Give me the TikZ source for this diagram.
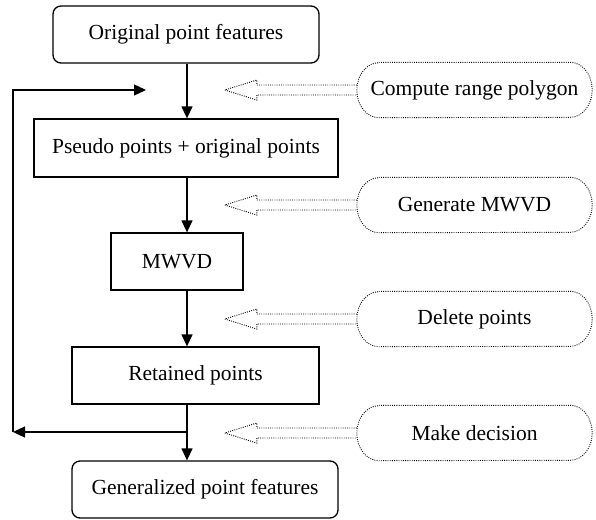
\documentclass[tikz,border=0pt]{standalone}
\usepackage{fontspec}
\setmainfont{Liberation Serif}
\usetikzlibrary{arrows.meta}

\tikzset{
  box/.style={draw, line width=1.3pt, inner sep=0pt, font=\fontsize{21.5}{25}\selectfont},
  roundbox/.style={box, rounded corners=8pt},
  cloud label/.style={inner sep=0pt, minimum width=235pt, minimum height=55pt,
                      font=\fontsize{21.5}{25}\selectfont},
  flow/.style={line width=1.3pt, -{Triangle[length=12pt,width=11pt]}},
  hollow/.style={dash pattern=on 0.9pt off 1.3pt, line width=0.9pt},
  outline/.style={dash pattern=on 0.9pt off 1.3pt, line width=0.9pt},
}

\begin{document}
\begin{tikzpicture}[x=1pt, y=-1pt]
  \useasboundingbox (0,0) rectangle (596,519);

  % main column of steps
  \node[roundbox, minimum width=266pt, minimum height=57pt] (orig) at (186,34.5) {Original point features};
  \node[box, minimum width=304pt, minimum height=58pt] (pseudo) at (186,148) {Pseudo points + original points};
  \node[box, minimum width=132pt, minimum height=57pt] (mwvd) at (177,261.5) {MWVD};
  \node[box, minimum width=247pt, minimum height=57pt] (kept) at (195.5,375.5) {Retained points};
  \node[roundbox, minimum width=266pt, minimum height=57pt] (gen) at (205,489.5) {Generalized point features};

  % vertical spine and feedback loop
  \coordinate (spine) at (187,0);
  \coordinate (split) at (187,432);
  \coordinate (loopBot) at (13,432);
  \coordinate (loopTop) at (13,90);
  \coordinate (loopEnd) at (146,90);

  \draw[flow] (orig.south -| spine) -- (pseudo.north -| spine);
  \draw[flow] (pseudo.south -| spine) -- (mwvd.north -| spine);
  \draw[flow] (mwvd.south -| spine) -- (kept.north -| spine);
  \draw[flow] (kept.south -| spine) -- (gen.north -| spine);
  \draw[flow] (split) -- (loopBot);
  \draw[flow] (loopBot) -- (loopTop) -- (loopEnd);

  % operations on the right
  \node[cloud label] (op1) at (474.5,90)  {Compute range polygon};
  \node[cloud label] (op2) at (474.5,205) {Generate MWVD};
  \node[cloud label] (op3) at (474.5,319) {Delete points};
  \node[cloud label] (op4) at (474.5,433) {Make decision};

  \foreach \n in {op1,op2,op3,op4}{
    \draw[outline] ([xshift=22pt]\n.north west) -- ([xshift=-22pt]\n.north east)
      arc[start angle=90, end angle=-90, x radius=22pt, y radius=27.5pt]
      -- ([xshift=22pt]\n.south west)
      arc[start angle=270, end angle=90, x radius=22pt, y radius=27.5pt] -- cycle;
    \draw[hollow] (\n.west) ++(0,-5) -- ++(-100,0) -- ++(0,-5) -- ++(-32,10)
      -- ++(32,10) -- ++(0,-5) -- ++(100,0);
  }
\end{tikzpicture}
\end{document}
